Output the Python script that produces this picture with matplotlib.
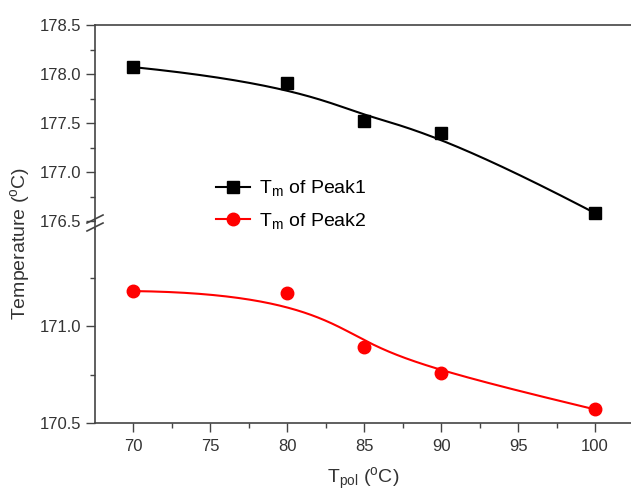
import numpy as np
import matplotlib.pyplot as plt
from matplotlib.lines import Line2D

plt.rcParams.update({
    "font.family": ["Liberation Sans", "DejaVu Sans"],
    "mathtext.fontset": "custom",
    "mathtext.rm": "Liberation Sans",
    "mathtext.it": "Liberation Sans:italic",
})

t_pol = [70, 80, 85, 90, 100]
peak1 = [178.07, 177.91, 177.52, 177.40, 176.58]
peak2 = [171.18, 171.17, 170.89, 170.76, 170.57]

txt_col = '#333333'
spine_col = '#444444'

W, H = 631, 492
fig = plt.figure(figsize=(W / 100, H / 100), dpi=100)

def box(x0, y_top, x1, y_bot):
    return [x0 / W, 1 - y_bot / H, (x1 - x0) / W, (y_bot - y_top) / H]

def bspline(xp, yp, n=300):
    # clamped cubic B-spline with the data points as control points
    P = np.column_stack([xp, yp]).astype(float)
    k = 3
    m = len(P)
    knots = np.concatenate([np.zeros(k), np.arange(m - k + 1), np.full(k, m - k)]).astype(float)
    ts = np.linspace(0, m - k, n)
    ts[-1] -= 1e-9

    def basis(i, p, t):
        if p == 0:
            return 1.0 if knots[i] <= t < knots[i + 1] else 0.0
        a = 0.0
        if knots[i + p] != knots[i]:
            a = (t - knots[i]) / (knots[i + p] - knots[i]) * basis(i, p - 1, t)
        b = 0.0
        if knots[i + p + 1] != knots[i + 1]:
            b = (knots[i + p + 1] - t) / (knots[i + p + 1] - knots[i + 1]) * basis(i + 1, p - 1, t)
        return a + b

    pts = np.array([sum(basis(i, k, t) * P[i] for i in range(m)) for t in ts])
    return pts[:, 0], pts[:, 1]

ax_up = fig.add_axes(box(95, 25, 633.5, 221))
ax_lo = fig.add_axes(box(95, 229, 633.5, 423))

bx1, by1 = bspline(t_pol, peak1)
bx2, by2 = bspline(t_pol, peak2)
ax_up.plot(bx1, by1, color='black', lw=1.5)
ax_up.plot(t_pol, peak1, 's', color='black', ms=8.5, ls='none')
ax_lo.plot(bx2, by2, color='red', lw=1.5)
ax_lo.plot(t_pol, peak2, 'o', color='red', ms=9, ls='none')

for ax in (ax_up, ax_lo):
    ax.set_xlim(67.5, 102.5)
    ax.spines['right'].set_visible(False)
    for s in ax.spines.values():
        s.set_color(spine_col)
        s.set_linewidth(1.2)
    ax.tick_params(axis='both', which='major', direction='out', length=6.5, width=1,
                   color=spine_col, labelcolor=txt_col, labelsize=12)
    ax.tick_params(axis='both', which='minor', direction='out', length=3.5, width=1,
                   color=spine_col)

ax_up.set_ylim(176.5, 178.5)
ax_up.set_yticks([176.5, 177.0, 177.5, 178.0, 178.5])
ax_up.set_yticks(np.arange(176.75, 178.5, 0.5), minor=True)
ax_up.set_yticklabels(['176.5', '177.0', '177.5', '178.0', '178.5'])
ax_up.spines['bottom'].set_visible(False)
ax_up.tick_params(axis='x', which='both', bottom=False, labelbottom=False)

ax_lo.set_ylim(170.5, 171.5)
ax_lo.set_yticks([170.5, 171.0])
ax_lo.set_yticklabels(['170.5', '171.0'])
ax_lo.set_yticks([170.75, 171.25], minor=True)
ax_lo.spines['top'].set_visible(False)
ax_lo.set_xticks([70, 75, 80, 85, 90, 95, 100])
ax_lo.set_xticks(np.arange(72.5, 102.5, 5), minor=True)
ax_lo.tick_params(axis='x', pad=5)

# spine through the gap and break marks
fig.add_artist(Line2D([95 / W, 95 / W], [1 - 229 / H, 1 - 221 / H], color=spine_col, lw=1.2))
for yb in (219, 227):
    fig.add_artist(Line2D([87 / W, 103 / W], [1 - (yb + 4) / H, 1 - (yb - 4) / H],
                          color=spine_col, lw=1.2))

fig.text(20 / W, 1 - 243 / H, r'Temperature ($^{\rm o}$C)', rotation=90, ha='center',
         va='center', fontsize=14, color=txt_col)
fig.text(363 / W, 1 - 479 / H, r'T$_{\rm pol}$ ($^{\rm o}$C)', ha='center', va='center',
         fontsize=14, color=txt_col)

handles = [Line2D([], [], color='black', marker='s', ms=8.5, lw=1.5),
           Line2D([], [], color='red', marker='o', ms=9, lw=1.5)]
fig.legend(handles, [r'T$_{\rm m}$ of Peak1', r'T$_{\rm m}$ of Peak2'],
           loc='upper left', bbox_to_anchor=(199 / W, 1 - 161 / H), frameon=False,
           fontsize=14, handlelength=1.7, handletextpad=0.5, labelspacing=0.65,
           labelcolor='black')

fig.savefig('out.png', dpi=100)
